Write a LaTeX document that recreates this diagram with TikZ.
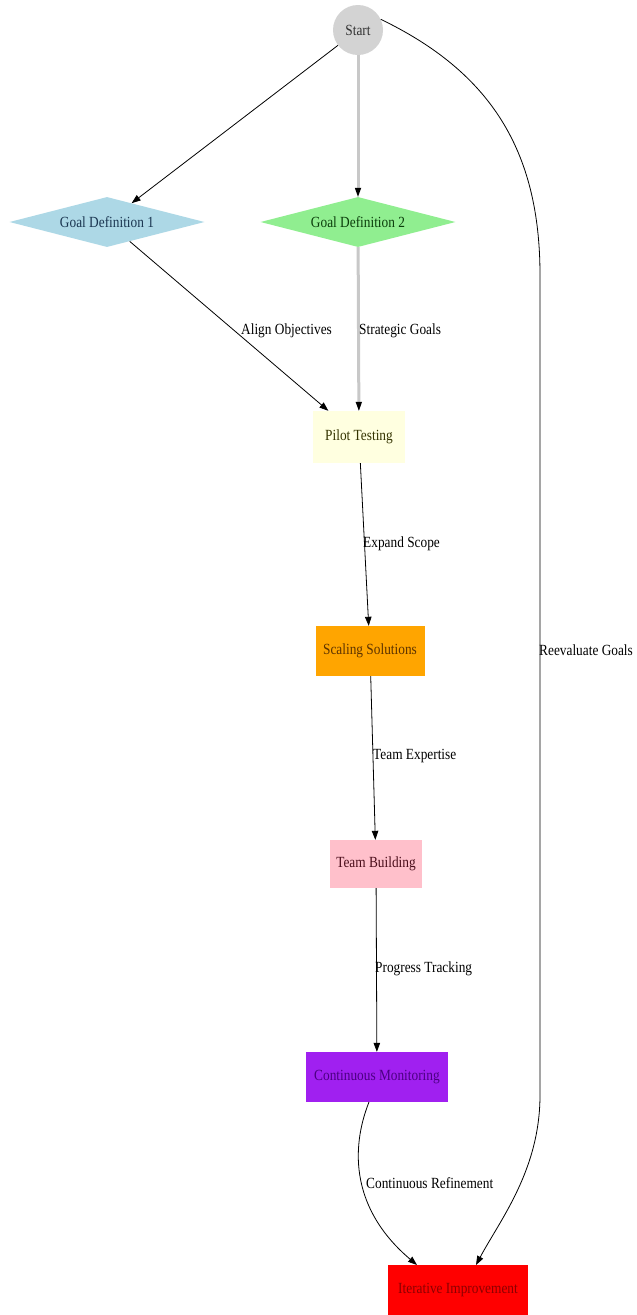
\documentclass[tikz,border=0pt]{standalone}
\usepackage{fontspec}
\setmainfont[FakeStretch=0.86]{Liberation Serif}
\usetikzlibrary{shapes.geometric,arrows.meta}
\definecolor{startfill}{HTML}{D3D3D3}
\definecolor{gdonefill}{HTML}{ADD8E6}
\definecolor{gdtwofill}{HTML}{90EE90}
\definecolor{pilotfill}{HTML}{FFFFE0}
\definecolor{scalefill}{HTML}{FFA500}
\definecolor{teamfill}{HTML}{FFC0CB}
\definecolor{monfill}{HTML}{A020F0}
\definecolor{iterfill}{HTML}{FF0000}
\definecolor{starttext}{HTML}{333333}
\definecolor{gdonetext}{HTML}{1A3550}
\definecolor{gdtwotext}{HTML}{0B3D0B}
\definecolor{pilottext}{HTML}{333300}
\definecolor{scaletext}{HTML}{5C3300}
\definecolor{teamtext}{HTML}{4A0D1A}
\definecolor{montext}{HTML}{4B0082}
\definecolor{itertext}{HTML}{8B0000}
\definecolor{thickedge}{HTML}{C8C8C8}
\begin{document}
\begin{tikzpicture}[x=1pt,y=-1pt,
  txt/.style={font=\fontsize{15.5}{18}\selectfont},
  boxnode/.style={txt,rectangle,inner sep=0pt,draw=none},
  dianode/.style={txt,diamond,inner sep=0pt,aspect=3.9,minimum width=195pt,minimum height=50pt},
  edgelab/.style={txt,anchor=west,inner sep=0pt,text=black},
  thinarrow/.style={draw=black,line width=0.8pt,-{Triangle[length=9pt,width=6.5pt]}},
  thickarrow/.style={draw=thickedge,line width=3pt,-{Triangle[length=9pt,width=6.5pt,color=black,line width=0pt]}}
]
\useasboundingbox (0,0) rectangle (637,1315);
\fill[white] (0,0) rectangle (637,1315);

\node[circle,txt,fill=startfill,text=starttext,minimum size=50pt,inner sep=0pt] (start) at (358,30) {Start};
\node[dianode,fill=gdonefill,text=gdonetext] (gd1) at (107,222) {Goal Definition 1};
\node[dianode,fill=gdtwofill,text=gdtwotext] (gd2) at (358,222) {Goal Definition 2};
\node[boxnode,fill=pilotfill,text=pilottext,minimum width=92pt,minimum height=52pt] (pilot) at (359,437) {Pilot Testing};
\node[boxnode,fill=scalefill,text=scaletext,minimum width=109pt,minimum height=50pt] (scale) at (370,651) {Scaling Solutions};
\node[boxnode,fill=teamfill,text=teamtext,minimum width=92pt,minimum height=48pt] (team) at (376,864) {Team Building};
\node[boxnode,fill=monfill,text=montext,minimum width=142pt,minimum height=50pt] (mon) at (377,1077) {Continuous Monitoring};
\node[boxnode,fill=iterfill,text=itertext,minimum width=140pt,minimum height=50pt] (iter) at (458,1290) {Iterative Improvement};

\coordinate (rtop) at (540,275);
\coordinate (rbot) at (540,1095);
\coordinate (monout) at (369,1102);
\coordinate (iterinl) at (417,1265);
\coordinate (iterinr) at (476,1265);

\draw[thinarrow] (start) -- (gd1);
\draw[thickarrow] (start) -- (gd2);
\draw[thinarrow] (gd1) -- (pilot);
\draw[thickarrow] (gd2) -- (pilot);
\draw[thinarrow] (pilot) -- (scale);
\draw[thinarrow] (scale) -- (team);
\draw[thinarrow] (team) -- (mon);
\draw[thinarrow] (monout) .. controls (350,1150) and (352,1210) .. (iterinl);
\draw[thinarrow] (start.25) .. controls (490,72) and (540,150) .. (rtop) -- (rbot) .. controls (540,1170) and (500,1220) .. (iterinr);

\node[edgelab] (lab1) at (241,331) {Align Objectives};
\node[edgelab] (lab2) at (359,331) {Strategic Goals};
\node[edgelab] (lab3) at (363,544) {Expand Scope};
\node[edgelab] (lab4) at (373,756) {Team Expertise};
\node[edgelab] (lab5) at (375,969) {Progress Tracking};
\node[edgelab] (lab6) at (366,1183) {Continuous Refinement};
\node[edgelab] (lab7) at (539,650) {Reevaluate Goals};
\end{tikzpicture}
\end{document}
